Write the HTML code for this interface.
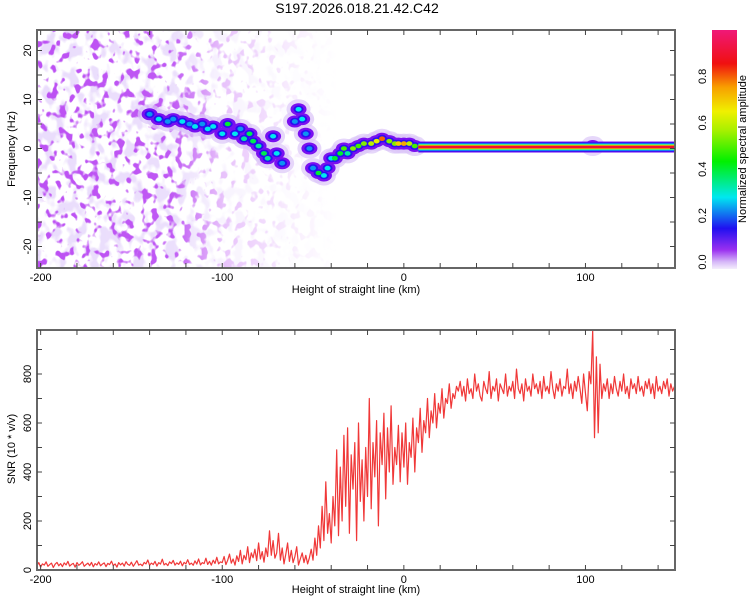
<!DOCTYPE html>
<html><head><meta charset="utf-8">
<style>
html,body{margin:0;padding:0;background:#fff;}
svg{display:block;font-family:"Liberation Sans",sans-serif;}
</style></head>
<body>
<svg id="chart" width="750" height="600" viewBox="0 0 750 600" xmlns="http://www.w3.org/2000/svg">
<defs>
  <linearGradient id="cbar" x1="0" y1="1" x2="0" y2="0">
    <stop offset="0" stop-color="#f4eefc"/>
    <stop offset="0.03" stop-color="#d6b8f8"/>
    <stop offset="0.08" stop-color="#9a30f0"/>
    <stop offset="0.17" stop-color="#2010f0"/>
    <stop offset="0.3" stop-color="#00e8f0"/>
    <stop offset="0.45" stop-color="#00f000"/>
    <stop offset="0.58" stop-color="#a8f000"/>
    <stop offset="0.66" stop-color="#f0f000"/>
    <stop offset="0.76" stop-color="#f8a000"/>
    <stop offset="0.86" stop-color="#f01010"/>
    <stop offset="1" stop-color="#f01878"/>
  </linearGradient>
  <linearGradient id="fade" x1="0" y1="0" x2="1" y2="0">
    <stop offset="0" stop-color="#fff" stop-opacity="1"/>
    <stop offset="0.45" stop-color="#fff" stop-opacity="0.95"/>
    <stop offset="0.62" stop-color="#fff" stop-opacity="0.35"/>
    <stop offset="0.85" stop-color="#fff" stop-opacity="0.1"/>
    <stop offset="1" stop-color="#fff" stop-opacity="0"/>
  </linearGradient>
  <mask id="fadeMask"><rect x="37" y="30" width="300" height="238" fill="url(#fade)"/></mask>
  <filter id="noiseLight" x="0" y="0" width="100%" height="100%">
    <feTurbulence type="fractalNoise" baseFrequency="0.09 0.07" numOctaves="2" seed="3"/>
    <feColorMatrix type="matrix" values="0 0 0 0 0.82  0 0 0 0 0.72  0 0 0 0 0.97  7 0 0 0 -3.5"/>
  </filter>
  <filter id="noiseDark" x="0" y="0" width="100%" height="100%">
    <feTurbulence type="fractalNoise" baseFrequency="0.12 0.1" numOctaves="2" seed="11"/>
    <feColorMatrix type="matrix" values="0 0 0 0 0.5  0 0 0 0 0.08  0 0 0 0 0.9  10 0 0 0 -5.7"/>
  </filter>
  <clipPath id="topClip"><rect x="37" y="30" width="638" height="238"/></clipPath>
  <clipPath id="botClip"><rect x="37" y="330" width="638" height="240"/></clipPath>
</defs>

<text x="357" y="13" font-size="14" text-anchor="middle">S197.2026.018.21.42.C42</text>

<g id="top">
  <g clip-path="url(#topClip)">
    <g mask="url(#fadeMask)">
      <rect x="37" y="30" width="300" height="238" filter="url(#noiseLight)"/>
      <rect x="37" y="30" width="300" height="238" filter="url(#noiseDark)"/>
    </g>
    <g id="ridge"></g>
    <g id="band"></g>
  </g>
  <rect x="37" y="30" width="638" height="238" fill="none" stroke="#666" stroke-width="2"/>
  <g id="topTicks"></g>
  <text x="356" y="293" font-size="11" text-anchor="middle">Height of straight line (km)</text>
  <text transform="translate(15,149) rotate(-90)" font-size="11" text-anchor="middle">Frequency (Hz)</text>
</g>

<g>
  <rect x="712" y="30" width="25" height="239" fill="url(#cbar)"/>
  <g id="cbTicks"></g>
  <text transform="translate(746,149) rotate(-90)" font-size="11" text-anchor="middle">Normalized spectral amplitude</text>
</g>

<g id="bottom">
  <g clip-path="url(#botClip)"><polyline id="snrLine" fill="none" stroke="#ee2222" stroke-opacity="0.9" stroke-width="1.2" stroke-linejoin="round"/></g>
  <rect x="37" y="330" width="638" height="240" fill="none" stroke="#666" stroke-width="2"/>
  <g id="botTicks"></g>
  <text x="356" y="593" font-size="11" text-anchor="middle">Height of straight line (km)</text>
  <text transform="translate(15,449) rotate(-90)" font-size="11" text-anchor="middle">SNR (10 * v/v)</text>
</g>
</svg>

<script>
// ---- data ----
var xTicks = [-200, -100, 0, 100];
var freqTicks = [-20, -10, 0, 10, 20];
var snrTicks = [0, 200, 400, 600, 800];
var cbTickLabels = ["0.0", "0.2", "0.4", "0.6", "0.8"];
var cbTickValues = [0, 0.2, 0.4, 0.6, 0.8];

var ridgeKm  = [-140,-135,-130,-127,-122,-118,-115,-111,-108,-105,-100,-97,-93,-90,-88,-85,-83,-80,-77,-75,-72,-70,-67,-60,-58,-56,-54,-52,-50,-47,-44,-42,-40,-38,-35,-33,-31,-28,-25,-22,-18,-15,-12,-8,-5,-3,0,3,6,104];
var ridgeHz  = [7,6,5.5,6,5.5,5,4.5,5,4,4.5,3,5,3,4,2,3,1.5,0.5,-1,-2,2.5,-1,-3,5.5,8,6,3,0,-4,-5,-5.5,-4,-2,-2,-1,0,-1,0,0.5,1,1,1.5,2,1.5,1,1,1,1,0.5,0.5];
var ridgeAmp = [0.25,0.3,0.25,0.25,0.3,0.25,0.3,0.25,0.3,0.3,0.3,0.42,0.3,0.25,0.35,0.4,0.4,0.35,0.4,0.35,0.3,0.3,0.25,0.25,0.3,0.3,0.25,0.25,0.25,0.42,0.3,0.3,0.3,0.42,0.42,0.5,0.35,0.55,0.5,0.55,0.6,0.65,0.8,0.55,0.55,0.7,0.75,0.6,0.5,0.6];

var bandStartKm = 8, bandEndKm = 150, bandHz = 0.3;

var snrStartKm = -202;
var snrA = [18,30,12,25,20,33,15,22,28,10,24,31,17,26,14,29,21,35,16,23,
27,12,30,19,25,34,15,22,28,18,31,13,26,20,33,17,24,29,14,27,
22,36,18,25,12,30,21,28,16,34,23,19,32,15,26,38,20,24,17,31,
25,41,19,28,22,35,16,30,24,44,21,27,18,33,26,39,20,29,23,36,
17,31,25,42,22,28,19,37,24,45,21,30,26,48,23,35,20,40,27,52,25,33];
var snrB = [30,55,22,40,65,28,45,20,58,35,80,25,60,42,95,30,70,50,85,38,110,45,75,32,90,55,160,60,120,48,
70,150,40,90,25,65,110,35,80,30,55,95,20,45,70,30,60,25,50,85];
var snrC = [40,130,60,180,90,260,120,360,150,230,
110,300,180,490,140,420,200,550,260,580,150,470,330,520,120,600,280,450,200,500,
300,700,250,520,380,610,180,560,430,640,290,580,400,670,350,500,430,590,360,560];
var snrD = [420,600,350,520,460,620,400,580,520,660,480,610,560,700,540,650,600,720,580,680,640,740,620,700,680,760,660,720,700,750];
var snrE = [730,770,710,750,690,780,720,740,700,800,730,760,710,690,770,740,720,810,700,750,730,780,690,760,740,720,800,710,750,730,770,700,820,740,720,760,690,780,730,750,710,800,740,760,720,770,700,790,730,750,720,810,740,700,760,730,780,710,750,740,820,720,760,700,770,730,790,740,680,800];
var snrF = [720,650,810,760,980,540,870,560,840,700,760];
var snrG = [730,780,700,760,720,790,740,710,770,730,800,720,750,700,780,740,760,720,790,730,750,710,770,740,780,720,760,700,790,730,750,720,770,740,780,710,760,730,750];

// ---- scales ----
var X0=37, X1=675, KM0=-202, KM1=149.3;
function xs(km){ return X0 + (km-KM0)/(KM1-KM0)*(X1-X0); }
function yf(hz){ return 148.5 - hz*4.9; }
function ysnr(v){ return 570 - v*0.245; }
function cbY(v){ return 262 - v*232; }

var NS="http://www.w3.org/2000/svg";
function mk(tag, attrs, parent){ var e=document.createElementNS(NS,tag); for(var k in attrs) e.setAttribute(k,attrs[k]); parent.appendChild(e); return e; }

function cmap(a){
  var stops=[[0,[244,238,252]],[0.08,[154,48,240]],[0.17,[32,16,240]],[0.3,[0,232,240]],[0.45,[0,240,0]],[0.58,[168,240,0]],[0.66,[240,240,0]],[0.76,[248,160,0]],[0.86,[240,16,16]],[1,[240,24,120]]];
  for(var i=1;i<stops.length;i++){ if(a<=stops[i][0]){ var t=(a-stops[i-1][0])/(stops[i][0]-stops[i-1][0]); var c=stops[i-1][1].map(function(v,j){return Math.round(v+(stops[i][1][j]-v)*t);}); return "rgb("+c.join(",")+")"; } }
  return "rgb(240,24,120)";
}

// ---- ridge blobs ----
var ridge=document.getElementById('ridge');
for(var i=0;i<ridgeKm.length;i++){
  var h=mk('ellipse',{cx:xs(ridgeKm[i]),cy:yf(ridgeHz[i]),rx:12,ry:10,fill:'#dcc6f8','fill-opacity':0.7},ridge);
  
  
}
for(var i=0;i<ridgeKm.length;i++){
  var m=mk('ellipse',{cx:xs(ridgeKm[i]),cy:yf(ridgeHz[i]),rx:8,ry:6,fill:'#7a10f0'},ridge);
  
  
}
for(var i=0;i<ridgeKm.length;i++){
  var b=mk('ellipse',{cx:xs(ridgeKm[i]),cy:yf(ridgeHz[i]),rx:5,ry:3.8,fill:'#2a10f0'},ridge);
  
  
}
for(var i=0;i<ridgeKm.length;i++){
  var c=mk('ellipse',{cx:xs(ridgeKm[i]),cy:yf(ridgeHz[i]),rx:3,ry:2.3,fill:cmap(ridgeAmp[i])},ridge);
  
  
}

// ---- constant band ----
var band=document.getElementById('band');
var layers=[[5.5,'#7010f0'],[4.5,'#2010f0'],[3.5,'#00e8f0'],[2.5,'#a8f000'],[1.8,'#f8a000'],[1.2,'#f01030']];
for(var j=0;j<layers.length;j++){
  var bx=xs(bandStartKm), bw=xs(bandEndKm)-bx+2, half=layers[j][0];
  var r=mk('rect',{x:bx,y:yf(bandHz)-half,width:bw,height:half*2,fill:layers[j][1]},band);
  
  
}

// ---- ticks ----
function ticks(gid, yTop, yBot, yvals, yfun, labels, minorStepY, yMin, yMax){
  var g=document.getElementById(gid);
  for(var km=-200; km<=149; km+=20){
    var x=xs(km);
    mk('line',{x1:x,y1:yTop,x2:x,y2:yTop+5,stroke:'#444','stroke-width':1},g);
    mk('line',{x1:x,y1:yBot,x2:x,y2:yBot-5,stroke:'#444','stroke-width':1},g);
  }
  for(var i=0;i<xTicks.length;i++){
    var t=mk('text',{x:xs(xTicks[i]),y:yBot+13,'font-size':11,'text-anchor':'middle'},g);
    t.textContent=xTicks[i];
    
    
  }
  for(var v=yMin; v<=yMax; v+=minorStepY){
    var y=yfun(v);
    if(y<yTop+1||y>yBot-1) continue;
    mk('line',{x1:37,y1:y,x2:42,y2:y,stroke:'#444','stroke-width':1},g);
    mk('line',{x1:675,y1:y,x2:670,y2:y,stroke:'#444','stroke-width':1},g);
  }
  for(var i=0;i<yvals.length;i++){
    var y=yfun(yvals[i]);
    var t=mk('text',{transform:'translate(31,'+y+') rotate(-90)','font-size':11,'text-anchor':'middle'},g);
    t.textContent=labels[i];
    
    
  }
}
ticks('topTicks',30,268,freqTicks,yf,freqTicks,5,-25,25);
ticks('botTicks',330,570,snrTicks,ysnr,snrTicks,100,0,1000);

var cb=document.getElementById('cbTicks');
for(var i=0;i<cbTickValues.length;i++){
  var y=cbY(cbTickValues[i]);
  var t=mk('text',{transform:'translate(706,'+y+') rotate(-90)','font-size':11,'text-anchor':'middle'},cb);
  t.textContent=cbTickLabels[i];
  
  
}

// ---- SNR line ----
var snr=[].concat(snrA,snrB,snrC,snrD,snrE,snrF,snrG);
var pts=[];
for(var i=0;i<snr.length;i++){ pts.push(xs(snrStartKm+i).toFixed(1)+','+ysnr(snr[i]).toFixed(1)); }
document.getElementById('snrLine').setAttribute('points',pts.join(' '));
</script>
</body></html>
